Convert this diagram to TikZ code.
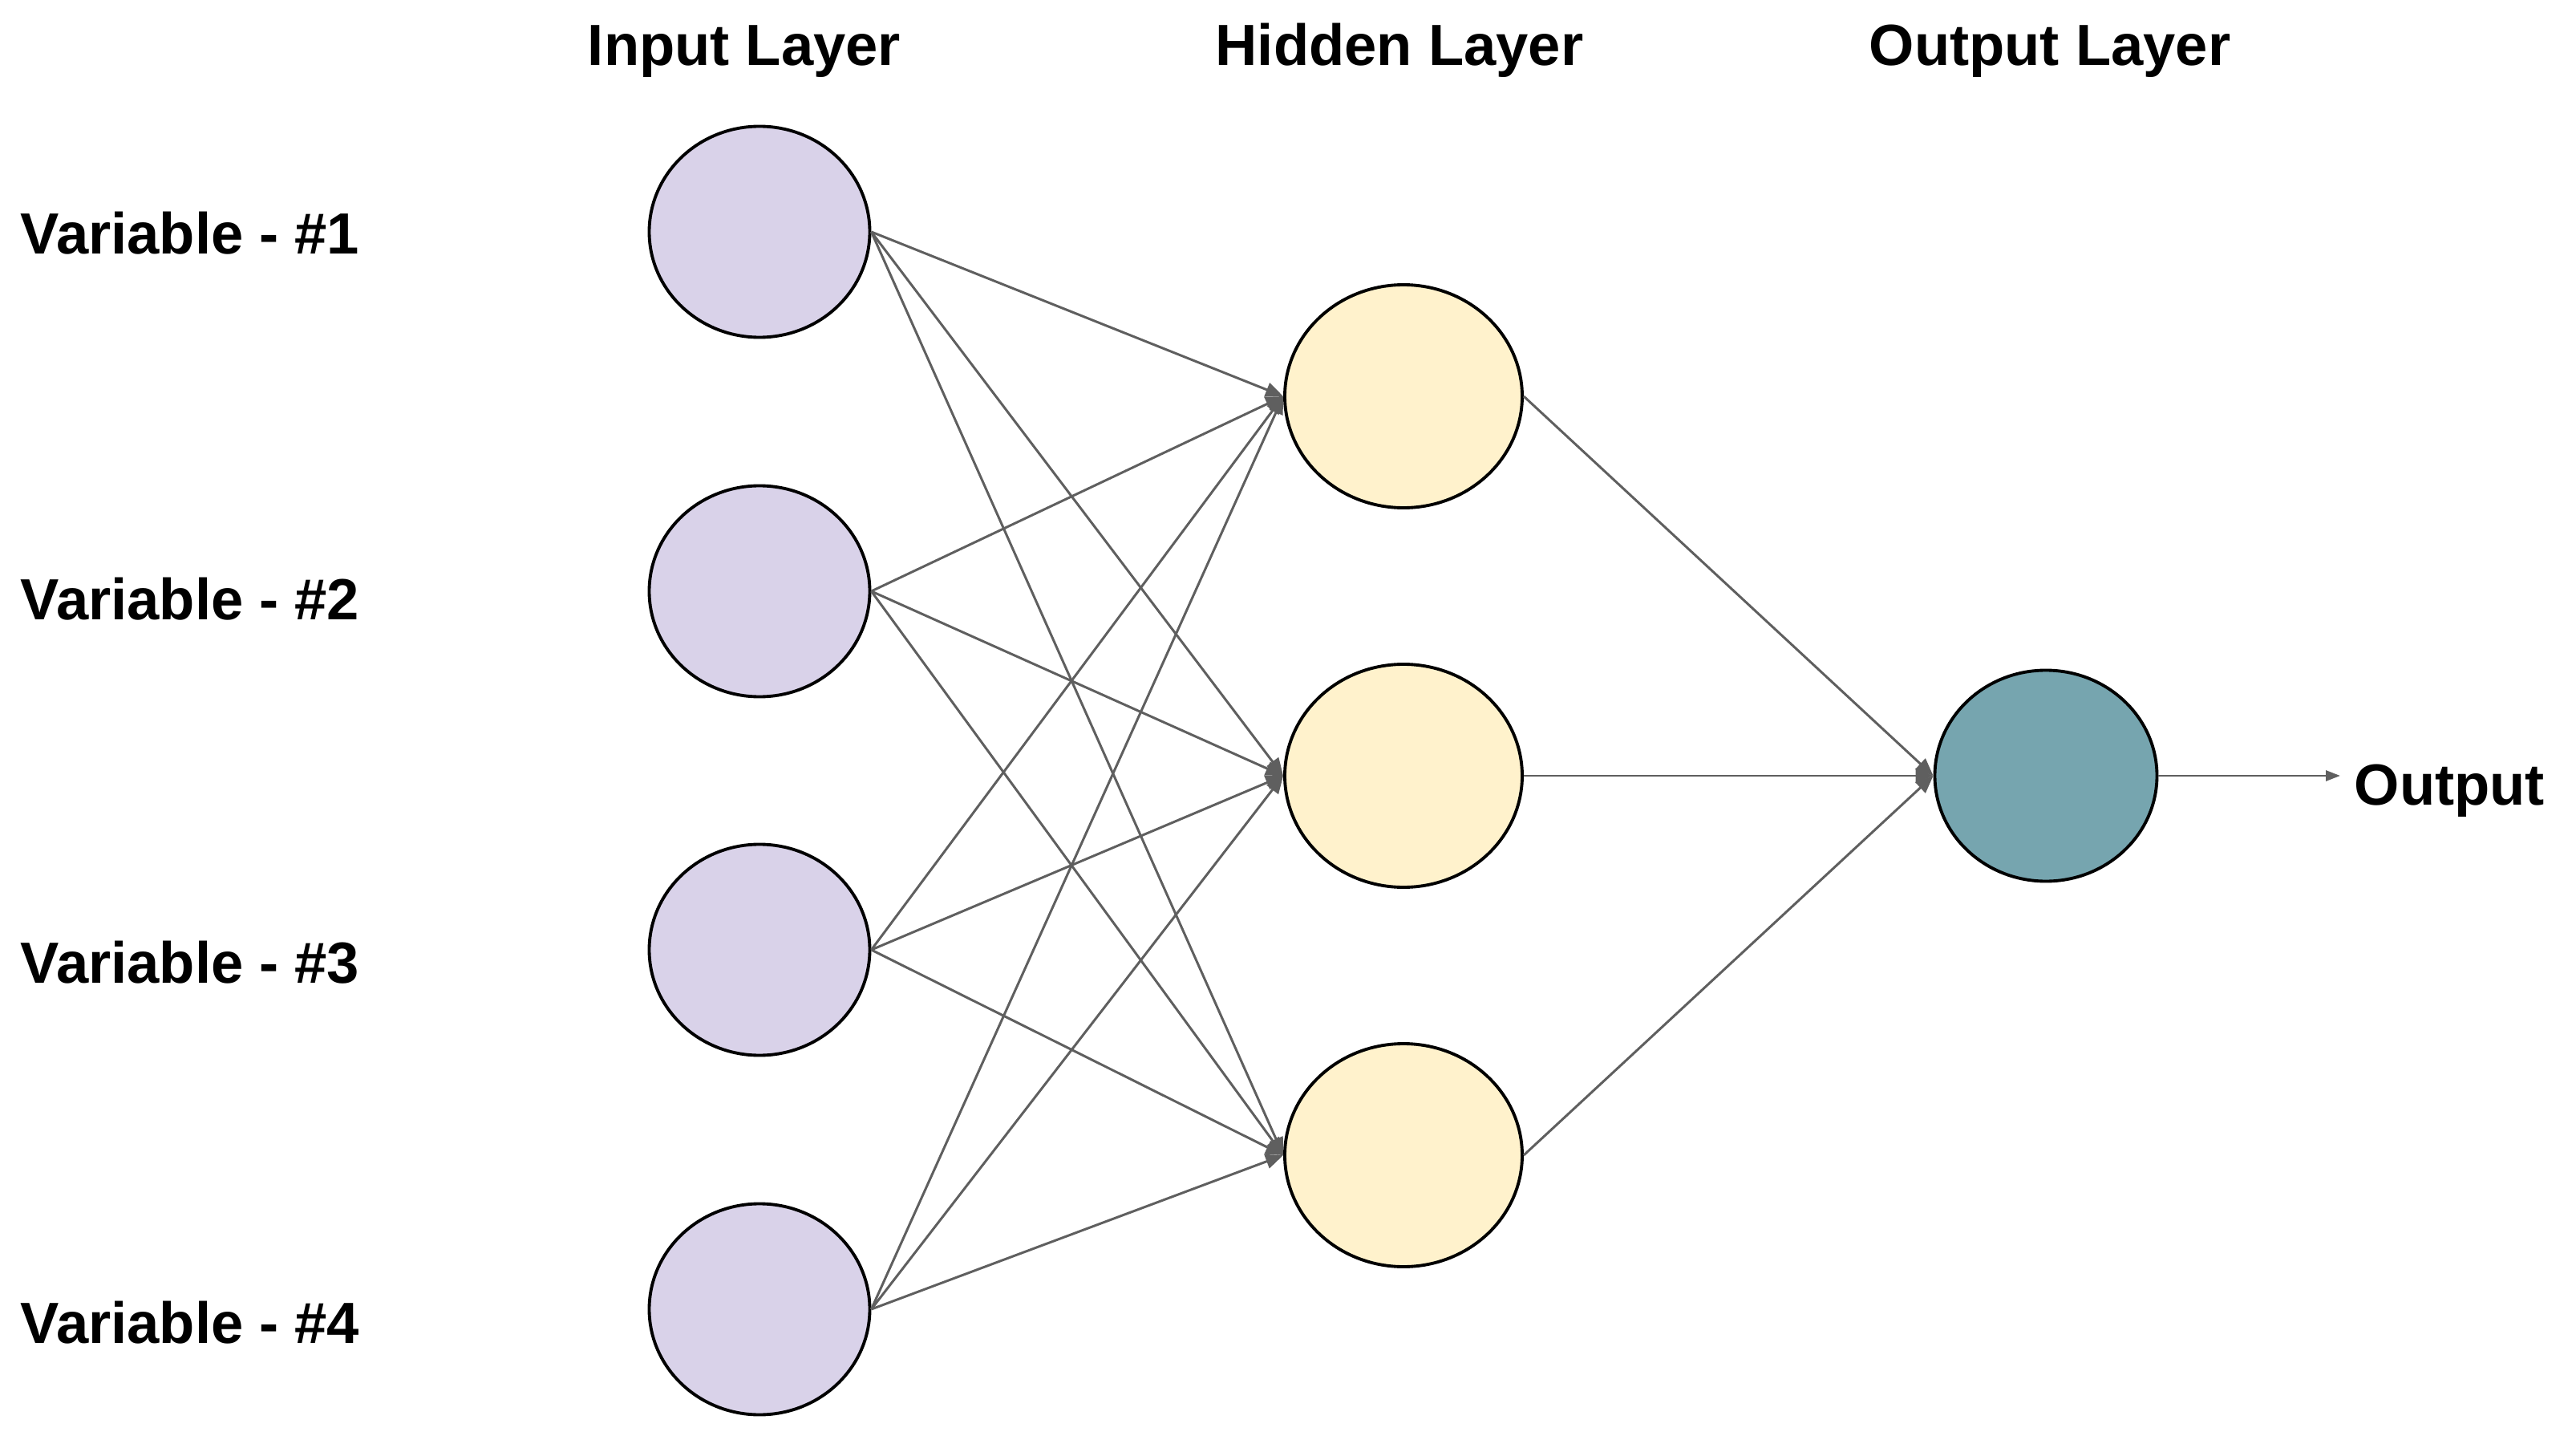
\documentclass[tikz,border=0pt]{standalone}
\usepackage{fontspec}
\setmainfont{Liberation Sans}
\usetikzlibrary{shapes.geometric,arrows.meta,positioning}
\definecolor{inputpurple}{RGB}{217,210,233}
\definecolor{hiddenyellow}{RGB}{255,242,204}
\definecolor{outputteal}{RGB}{118,165,175}
\definecolor{edgegray}{RGB}{95,95,95}

\begin{document}
\begin{tikzpicture}[
		neuron/.style={draw, ellipse, line width=1.1pt, inner sep=0pt},
		inneuron/.style={neuron, fill=inputpurple, minimum width=2.75cm, minimum height=2.63cm},
		hidneuron/.style={neuron, fill=hiddenyellow, minimum width=2.96cm, minimum height=2.78cm},
		outneuron/.style={neuron, fill=outputteal, minimum width=2.77cm, minimum height=2.63cm},
		weight/.style={draw=edgegray, line width=0.85pt, -{Triangle[length=0.22cm,width=0.18cm]}},
		bigtext/.style={font=\fontsize{20.6}{24}\selectfont\bfseries, inner sep=0pt}
	]
	\useasboundingbox (0,0) rectangle (32.12,17.94);
	
	% Layer titles
	\node[bigtext, anchor=base] (titlein) at (9.28,17.12) {Input Layer};
	\node[bigtext, anchor=base] (titlehid) at (17.45,17.12) {Hidden Layer};
	\node[bigtext, anchor=base] (titleout) at (25.56,17.12) {Output Layer};
	
	% Input neurons and their variables
	\node[inneuron] (in1) at (9.47,15.05) {};
	\node[inneuron] (in2) at (9.47,10.57) {};
	\node[inneuron] (in3) at (9.47,6.10) {};
	\node[inneuron] (in4) at (9.47,1.62) {};
	
	\node[bigtext, anchor=west] (var1) at (0.25,15.03) {Variable - \#1};
	\node[bigtext, anchor=west] (var2) at (0.25,10.47) {Variable - \#2};
	\node[bigtext, anchor=west] (var3) at (0.25,5.94) {Variable - \#3};
	\node[bigtext, anchor=west] (var4) at (0.25,1.45) {Variable - \#4};
	
	% Hidden neurons
	\node[hidneuron] (hid1) at (17.50,13.00) {};
	\node[hidneuron] (hid2) at (17.50,8.27) {};
	\node[hidneuron] (hid3) at (17.50,3.54) {};
	
	% Output neuron
	\node[outneuron] (out) at (25.51,8.27) {};
	\node[bigtext, anchor=base west] (outtext) at (29.35,7.91) {Output};
	
	% Input to hidden weights
	\draw[weight] (in1.east) -- (hid1.west);
	\draw[weight] (in1.east) -- (hid2.west);
	\draw[weight] (in1.east) -- (hid3.west);
	\draw[weight] (in2.east) -- (hid1.west);
	\draw[weight] (in2.east) -- (hid2.west);
	\draw[weight] (in2.east) -- (hid3.west);
	\draw[weight] (in3.east) -- (hid1.west);
	\draw[weight] (in3.east) -- (hid2.west);
	\draw[weight] (in3.east) -- (hid3.west);
	\draw[weight] (in4.east) -- (hid1.west);
	\draw[weight] (in4.east) -- (hid2.west);
	\draw[weight] (in4.east) -- (hid3.west);
	
	% Hidden to output weights
	\draw[weight] (hid1.east) -- (out.west);
	\draw[weight] (hid2.east) -- (out.west);
	\draw[weight] (hid3.east) -- (out.west);
	
	% Final output
	\draw[draw=edgegray, line width=0.85pt, -{Triangle[length=0.18cm,width=0.13cm]}] (out.east) -- ([xshift=-0.17cm]out.east -| outtext.west);
\end{tikzpicture}
\end{document}
